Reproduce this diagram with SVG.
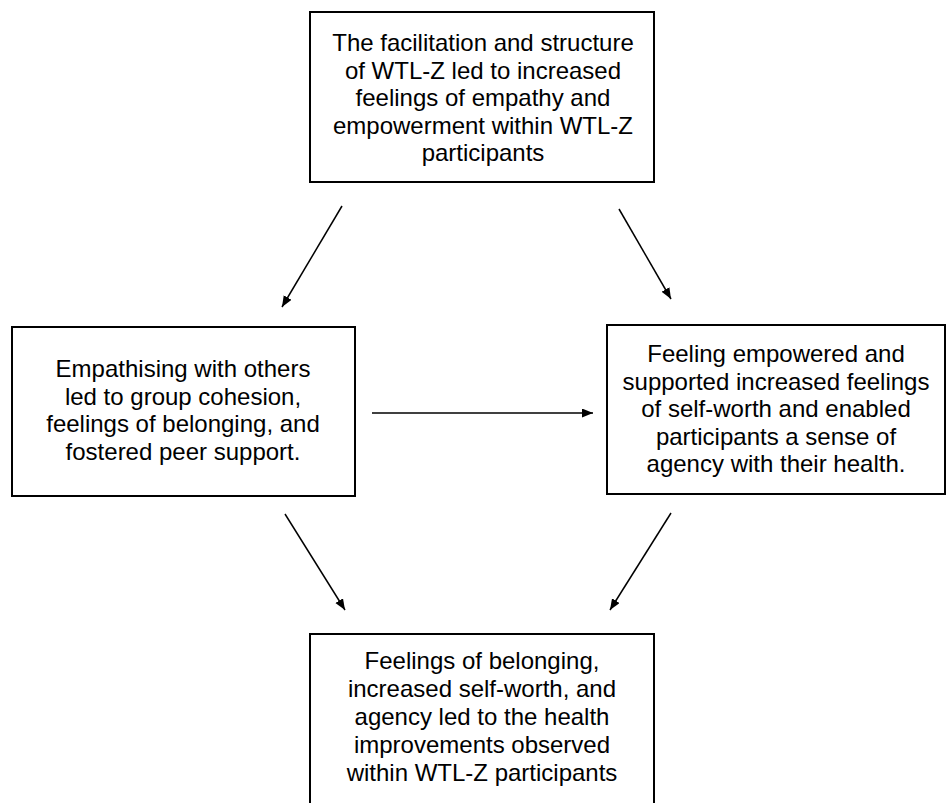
<svg xmlns="http://www.w3.org/2000/svg" width="947" height="803" viewBox="0 0 947 803">
<style>
.box{fill:#fff;stroke:#000;stroke-width:2}
.t{font-family:"Liberation Sans",Arial,sans-serif;font-size:24px;fill:#000;text-anchor:middle}
.c{stroke:#000;stroke-width:1.5;fill:none;marker-end:url(#ah)}
</style>
<defs>
<marker id="ah" markerUnits="userSpaceOnUse" markerWidth="12" markerHeight="10" refX="11" refY="4.5" orient="auto">
<path d="M0,0 L11,4.5 L0,9 z" fill="#000"/>
</marker>
</defs>
<rect width="947" height="803" fill="#fff"/>
<g id="connectors">
<line class="c" x1="342" y1="206" x2="282" y2="307"/>
<line class="c" x1="619" y1="209" x2="671" y2="299"/>
<line class="c" x1="372" y1="413" x2="593" y2="413"/>
<line class="c" x1="285" y1="514" x2="345" y2="610"/>
<line class="c" x1="671" y1="513" x2="610" y2="610"/>
</g>
<g id="top">
<rect class="box" x="310" y="12" width="344" height="170"/>
<text class="t"><tspan x="483" y="51">The facilitation and structure</tspan><tspan x="483" y="78.5">of WTL-Z led to increased</tspan><tspan x="483" y="106">feelings of empathy and</tspan><tspan x="483" y="133.5">empowerment within WTL-Z</tspan><tspan x="483" y="161">participants</tspan></text>
</g>
<g id="left">
<rect class="box" x="12" y="327" width="343" height="169"/>
<text class="t"><tspan x="183" y="377">Empathising with others</tspan><tspan x="183" y="404.5">led to group cohesion,</tspan><tspan x="183" y="432">feelings of belonging, and</tspan><tspan x="183" y="459.5">fostered peer support.</tspan></text>
</g>
<g id="right">
<rect class="box" x="607" y="325" width="338" height="169"/>
<text class="t"><tspan x="776" y="362">Feeling empowered and</tspan><tspan x="776" y="389.5">supported increased feelings</tspan><tspan x="776" y="417">of self-worth and enabled</tspan><tspan x="776" y="444.5">participants a sense of</tspan><tspan x="776" y="472">agency with their health.</tspan></text>
</g>
<g id="bottom">
<rect class="box" x="310" y="634" width="344" height="190"/>
<text class="t"><tspan x="482" y="669">Feelings of belonging,</tspan><tspan x="482" y="697">increased self-worth, and</tspan><tspan x="482" y="725">agency led to the health</tspan><tspan x="482" y="753">improvements observed</tspan><tspan x="482" y="781">within WTL-Z participants</tspan></text>
</g>
</svg>
